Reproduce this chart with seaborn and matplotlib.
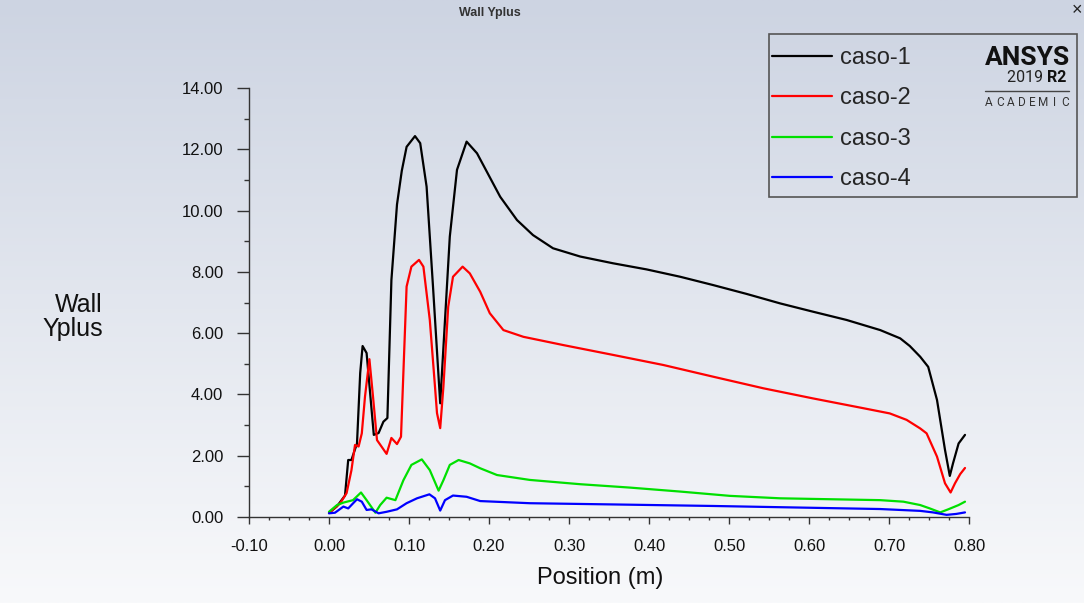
import numpy as np
import pandas as pd
import matplotlib
matplotlib.use("Agg")
import matplotlib.pyplot as plt
from matplotlib import font_manager
from matplotlib.ticker import MultipleLocator, FormatStrFormatter
from matplotlib.patches import Rectangle
from matplotlib.lines import Line2D
import seaborn as sns

# ---------------- data ----------------
cases = ["caso-1", "caso-2", "caso-3", "caso-4"]
colors = ["#000000", "#ff0000", "#00e000", "#0000ff"]

caso1_x = [0, 0.010, 0.020, 0.024, 0.028, 0.035, 0.039, 0.042, 0.047, 0.056, 0.062, 0.068, 0.073,
           0.078, 0.085, 0.091, 0.097, 0.1075, 0.114, 0.122, 0.130, 0.139, 0.145, 0.151, 0.160,
           0.172, 0.185, 0.214, 0.235, 0.255, 0.280, 0.314, 0.355, 0.397, 0.439, 0.480, 0.522,
           0.564, 0.605, 0.647, 0.689, 0.714, 0.726, 0.739, 0.749, 0.760, 0.770, 0.776, 0.780,
           0.787, 0.795]
caso1_y = [0.13, 0.35, 0.70, 1.86, 1.86, 2.40, 4.70, 5.58, 5.35, 2.68, 2.74, 3.11, 3.23,
           7.73, 10.20, 11.30, 12.08, 12.43, 12.20, 10.78, 7.52, 3.71, 6.43, 9.15, 11.33,
           12.25, 11.87, 10.45, 9.69, 9.20, 8.77, 8.50, 8.28, 8.08, 7.84, 7.57, 7.28,
           6.97, 6.70, 6.43, 6.10, 5.83, 5.58, 5.23, 4.90, 3.82, 2.19, 1.34, 1.75,
           2.40, 2.68]

caso2_x = [0, 0.014, 0.022, 0.028, 0.0325, 0.037, 0.041, 0.045, 0.0505, 0.055, 0.060, 0.072,
           0.078, 0.085, 0.090, 0.097, 0.103, 0.1125, 0.118, 0.126, 0.1325, 0.135, 0.139,
           0.143, 0.149, 0.155, 0.167, 0.176, 0.189, 0.201, 0.218, 0.243, 0.293, 0.355,
           0.418, 0.480, 0.543, 0.605, 0.668, 0.701, 0.722, 0.739, 0.747, 0.760, 0.770,
           0.777, 0.7825, 0.789, 0.795]
caso2_y = [0.13, 0.45, 0.78, 1.52, 2.35, 2.30, 2.73, 3.93, 5.15, 3.93, 2.51, 2.06,
           2.58, 2.38, 2.62, 7.52, 8.17, 8.39, 8.17, 6.43, 4.25, 3.39, 2.90,
           4.25, 6.86, 7.84, 8.17, 7.95, 7.35, 6.65, 6.10, 5.88, 5.61, 5.29,
           4.96, 4.58, 4.20, 3.87, 3.55, 3.38, 3.17, 2.89, 2.73, 1.97, 1.10,
           0.80, 1.10, 1.40, 1.60]

caso3_x = [0, 0.010, 0.018, 0.030, 0.040, 0.047, 0.058, 0.064, 0.072, 0.083, 0.093, 0.103,
           0.116, 0.126, 0.137, 0.143, 0.151, 0.162, 0.176, 0.189, 0.210, 0.251, 0.314,
           0.376, 0.439, 0.501, 0.564, 0.626, 0.689, 0.718, 0.739, 0.751, 0.764, 0.774,
           0.787, 0.795]
caso3_y = [0.17, 0.39, 0.47, 0.55, 0.80, 0.55, 0.14, 0.39, 0.63, 0.55, 1.20, 1.70,
           1.88, 1.53, 0.86, 1.20, 1.70, 1.86, 1.75, 1.59, 1.37, 1.21, 1.07,
           0.96, 0.83, 0.69, 0.61, 0.58, 0.55, 0.50, 0.39, 0.28, 0.15, 0.25,
           0.39, 0.50]

caso4_x = [0, 0.0075, 0.018, 0.024, 0.035, 0.041, 0.047, 0.053, 0.062, 0.072, 0.085, 0.097,
           0.110, 0.1255, 0.1325, 0.139, 0.145, 0.155, 0.172, 0.189, 0.251, 0.355, 0.480,
           0.605, 0.689, 0.739, 0.755, 0.772, 0.784, 0.795]
caso4_y = [0.12, 0.14, 0.34, 0.28, 0.58, 0.50, 0.23, 0.25, 0.12, 0.17, 0.25, 0.45,
           0.61, 0.74, 0.61, 0.21, 0.55, 0.70, 0.66, 0.52, 0.45, 0.41, 0.36,
           0.30, 0.26, 0.20, 0.15, 0.07, 0.10, 0.15]

xticks = [-0.10, 0.00, 0.10, 0.20, 0.30, 0.40, 0.50, 0.60, 0.70, 0.80]
yticks = [0, 2, 4, 6, 8, 10, 12, 14]

series_x = [caso1_x, caso2_x, caso3_x, caso4_x]
series_y = [caso1_y, caso2_y, caso3_y, caso4_y]
df = pd.concat([pd.DataFrame({"Position": sx, "Yplus": sy, "case": c})
                for sx, sy, c in zip(series_x, series_y, cases)], ignore_index=True)

# ---------------- style ----------------
sns.set_theme(style="ticks")
plt.rcParams["font.family"] = ["Liberation Sans", "DejaVu Sans"]
names = {f.name for f in font_manager.fontManager.ttflist}
narrow = "Liberation Sans Narrow" if "Liberation Sans Narrow" in names else "Roboto"

W, H = 1084, 603
fig = plt.figure(figsize=(W / 100, H / 100), dpi=100)

# background gradient
bg = fig.add_axes([0, 0, 1, 1], zorder=-10)
top = np.array([0xcd, 0xd4, 0xe2]) / 255
bot = np.array([0xf8, 0xf9, 0xfb]) / 255
t = np.linspace(0, 1, 256)[:, None]
grad = top[None, :] * (1 - t) + bot[None, :] * t
bg.imshow(grad[:, None, :].repeat(2, axis=1), aspect="auto", extent=[0, 1, 0, 1])
bg.set_axis_off()

def fx(px):
    return px / W

def fy(py):
    return 1 - py / H

ax = fig.add_axes([fx(249), fy(517), (969 - 249) / W, (517 - 88) / H])
ax.patch.set_alpha(0)

sns.lineplot(data=df, x="Position", y="Yplus", hue="case", hue_order=cases,
             palette=colors, estimator=None, linewidth=1.6, ax=ax, legend=False)

ax.set_xlim(-0.1, 0.8)
ax.set_ylim(0, 14)
ax.set_xticks(xticks)
ax.set_yticks(yticks)
ax.xaxis.set_minor_locator(MultipleLocator(0.025))
ax.yaxis.set_minor_locator(MultipleLocator(1))
ax.xaxis.set_major_formatter(FormatStrFormatter("%.2f"))
ax.yaxis.set_major_formatter(FormatStrFormatter("%.2f"))
ax.set_xlabel("")
ax.set_ylabel("")
for s in ["top", "right"]:
    ax.spines[s].set_visible(False)
for s in ["left", "bottom"]:
    ax.spines[s].set_color("#333333")
    ax.spines[s].set_linewidth(1.0)
ax.tick_params(axis="y", which="major", length=8.5, width=1.0, color="#333333",
               pad=10, labelsize=12, labelcolor="#111111", direction="out")
ax.tick_params(axis="y", which="minor", length=3.6, width=1.0, color="#333333", direction="out")
ax.tick_params(axis="x", which="major", length=5, width=1.0, color="#333333",
               pad=11, labelsize=12, labelcolor="#111111", direction="out")
ax.tick_params(axis="x", which="minor", length=2.5, width=1.0, color="#333333", direction="out")

# axis labels
fig.text(fx(600), fy(578), "Position (m)", ha="center", va="center", fontsize=17, color="#111111")
fig.text(fx(103), fy(317), "Wall\nYplus", ha="right", va="center", fontsize=18,
         color="#111111", multialignment="right", linespacing=0.95)

# title bar text
fig.text(fx(490), fy(13), "Wall Yplus", ha="center", va="center", fontsize=9,
         fontweight="bold", color="#333333")
fig.text(fx(1077), fy(11), "×", ha="center", va="center", fontsize=13, color="#222222")

# legend box
fig.add_artist(Rectangle((fx(769), fy(197)), (1077 - 769) / W, (197 - 34) / H,
                         transform=fig.transFigure, facecolor="none",
                         edgecolor="#555555", linewidth=1.2))
handles = [Line2D([], [], color=c, linewidth=1.6) for c in colors]
fig.legend(handles, cases, loc="upper left", bbox_to_anchor=(fx(772), fy(47)),
           bbox_transform=fig.transFigure, frameon=False, fontsize=17,
           handlelength=2.55, handletextpad=0.35, labelspacing=0.78,
           borderpad=0, borderaxespad=0)

# ANSYS logo text
fig.text(fx(1070), fy(65), "ANSYS", ha="right", va="baseline", fontsize=19,
         fontweight="bold", family=narrow, color="#111111")
fig.text(fx(1047), fy(82), "2019 ", ha="right", va="baseline", fontsize=11.5,
         family=narrow, color="#222222")
fig.text(fx(1047), fy(82), "R2", ha="left", va="baseline", fontsize=11.5,
         fontweight="bold", family=narrow, color="#111111")
fig.add_artist(Line2D([fx(985), fx(1069)], [fy(91), fy(91)], transform=fig.transFigure,
                      color="#444444", linewidth=1.0))
for i, ch in enumerate("ACADEMIC"):
    fig.text(fx(989 + i * 10.9), fy(103), ch, ha="center", va="center", fontsize=8.5,
             family=narrow, color="#333333")

fig.savefig("out.png", dpi=100)
